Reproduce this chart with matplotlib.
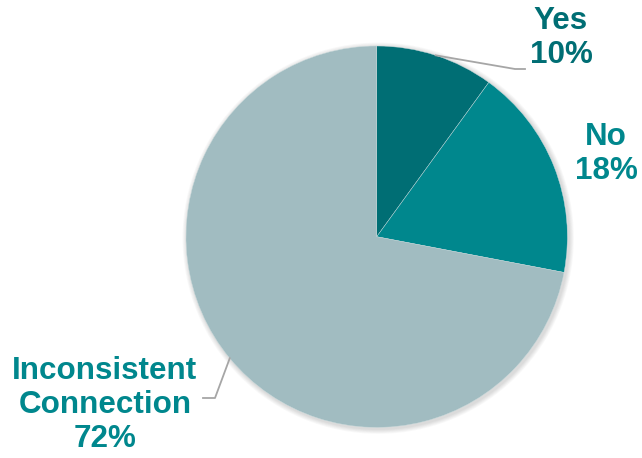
import numpy as np
import matplotlib.pyplot as plt
from matplotlib.patches import Circle

labels = ["Yes", "No", "Inconsistent\nConnection"]
values = [10, 18, 72]
colors = ["#006E74", "#00878D", "#A1BCC1"]
label_colors = ["#006E74", "#00878D", "#00878D"]

W, H = 642, 458
fig = plt.figure(figsize=(W / 100, H / 100), dpi=100)
ax = fig.add_axes([0, 0, 1, 1])

cx, cy, r = 376.7, H - 236.7, 190.7

# soft shadow around the pie
for i in range(6):
    ax.add_patch(Circle((cx + 1.5, cy - 1.5), r + 1 + i * 0.8, color="#000000",
                        alpha=0.025, lw=0, zorder=0))

wedges, _ = ax.pie(values, colors=colors, startangle=90, counterclock=False,
                   center=(cx, cy), radius=r, frame=True,
                   wedgeprops=dict(linewidth=0.3, edgecolor="#c8dadc"))
ax.set_xlim(0, W)
ax.set_ylim(0, H)
ax.set_aspect("equal")
ax.axis("off")

# label block positions (centre of text) and leader line elbows
label_pos = [(561, H - 38), (606, H - 154), (105, H - 405)]
leaders = [[(515, H - 69), (525, H - 69)],
           None,
           [(215, H - 398), (203, H - 398)]]

total = sum(values)
for w, lab, v, (tx, ty), lc, ld in zip(wedges, labels, values, label_pos,
                                       label_colors, leaders):
    ax.text(tx, ty, f"{lab}\n{round(v / total * 100)}%", ha="center", va="center",
            color=lc, fontsize=22.6, fontweight="bold", family="Liberation Sans",
            linespacing=1.18)
    if ld is not None:
        ang = np.deg2rad((w.theta1 + w.theta2) / 2)
        sx, sy = cx + r * np.cos(ang), cy + r * np.sin(ang)
        xs = [sx] + [p[0] for p in ld]
        ys = [sy] + [p[1] for p in ld]
        ax.plot(xs, ys, color="#A6A6A6", lw=1.3, zorder=3)

fig.savefig("out.png", dpi=100)
